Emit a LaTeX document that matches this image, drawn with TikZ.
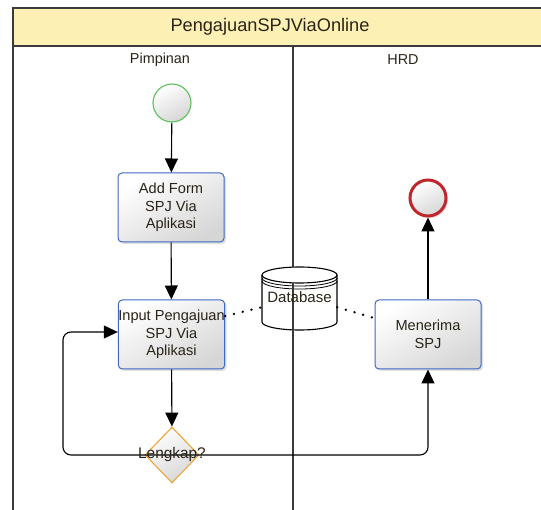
\documentclass[tikz,border=0pt]{standalone}
\usepackage{fontspec}
\setmainfont{Liberation Sans}
\usetikzlibrary{arrows.meta,shapes.geometric,shadows}
\definecolor{titlefill}{HTML}{FCF0B4}
\definecolor{lanecol}{HTML}{3A3A3A}
\definecolor{taskblue}{HTML}{3F67C4}
\definecolor{startgreen}{HTML}{5CC05C}
\definecolor{endred}{HTML}{C0272D}
\definecolor{gworange}{HTML}{EBA73C}
\definecolor{txt}{HTML}{2A2418}
\begin{document}
\begin{tikzpicture}[x=1pt,y=-1pt,
  lane/.style={draw=lanecol,line width=1.2pt},
  gradfill/.style={top color=white,bottom color=black!16,shading angle=30},
  task/.style={gradfill,draw=taskblue,line width=1pt,rounded corners=4pt,
    minimum width=106pt,minimum height=69pt,inner sep=0pt,align=center,text=txt,
    font=\fontsize{14.6}{17.5}\selectfont,
    drop shadow={shadow xshift=2pt,shadow yshift=-2pt,opacity=0.25}},
  startev/.style={circle,gradfill,draw=startgreen,line width=1.1pt,minimum size=38pt,inner sep=0pt},
  endev/.style={circle,gradfill,draw=endred,line width=3pt,minimum size=36pt,inner sep=0pt,
    drop shadow={shadow xshift=2pt,shadow yshift=-2pt,opacity=0.25}},
  gateway/.style={diamond,gradfill,draw=gworange,line width=1.1pt,minimum width=54pt,minimum height=56pt,inner sep=0pt},
  flow/.style={draw=black,line width=1.1pt,-{Triangle[length=14pt,width=13pt]}},
  assoc/.style={draw=black,line width=2.6pt,dash pattern=on 0.01pt off 9pt,line cap=round},
  lbl/.style={font=\fontsize{14.4}{16}\selectfont,inner sep=0pt,text=txt}
]
\useasboundingbox (0,0) rectangle (541,510);
\clip (0,0) rectangle (541,510);
\fill[white] (0,0) rectangle (541,510);

% pool header
\draw[lane,fill=titlefill] (13,8) rectangle (560,46);
\node[font=\fontsize{18.2}{20}\selectfont,inner sep=0pt,text=txt] (title) at (270,27) {PengajuanSPJViaOnline};
\draw[lane] (13,46) -- (13,515);
\draw[lane] (293,46) -- (293,515);
\node[lbl] (lane1) at (160,60) {Pimpinan};
\node[lbl] (lane2) at (403,60) {HRD};

% nodes
\node[startev] (start) at (172,103) {};
\node[task] (add) at (171,207.5) {Add Form\\SPJ Via\\Aplikasi};
\node[task] (inp) at (171.5,334.5) {Input Pengajuan\\SPJ Via\\Aplikasi};
\node[gateway] (dia) at (172,455) {};
\node[task] (men) at (428,334.5) {Menerima\\SPJ};
\node[endev] (end) at (428,198) {};

% database
\node[minimum width=75pt,minimum height=63pt,inner sep=0pt] (db) at (299.5,298.5) {};
\begin{scope}
  \fill[white] (262,275) -- (262,322) arc[start angle=180,end angle=360,x radius=37.5,y radius=-8] -- (337,275) arc[start angle=0,end angle=180,x radius=37.5,y radius=-8] -- cycle;
  \draw[line width=1.1pt] (262,275) -- (262,322) arc[start angle=180,end angle=360,x radius=37.5,y radius=-8] -- (337,275);
  \draw[line width=1.1pt] (299.5,275) ellipse[x radius=37.5,y radius=8];
  \draw[line width=0.8pt] (262,278) arc[start angle=180,end angle=360,x radius=37.5,y radius=-8];
  \draw[line width=0.8pt] (262,281) arc[start angle=180,end angle=360,x radius=37.5,y radius=-8];
\end{scope}
\draw[lane] (293,283) -- (293,331);
\node[font=\fontsize{15}{16}\selectfont,inner sep=0pt,text=txt] (dblabel) at (299.5,297) {Database};

% flows
\draw[flow] (start) -- (add);
\draw[flow] (add) -- (inp);
\draw[flow] (inp) -- (dia);
\draw[flow] (men) -- (end);
\coordinate (loopL) at (63,332);
\draw[flow,rounded corners=8pt] (dia.center) -| (loopL) -- (inp.west |- loopL);
\draw[flow,rounded corners=8pt] (dia.center) -| (men.south);
\node[lbl,font=\fontsize{15.4}{16}\selectfont] (dialabel) at (dia) {Lengkap?};

% associations
\draw[assoc] (inp.19) -- (db.193);
\draw[assoc] (db.347) -- (men.163);
\end{tikzpicture}
\end{document}
